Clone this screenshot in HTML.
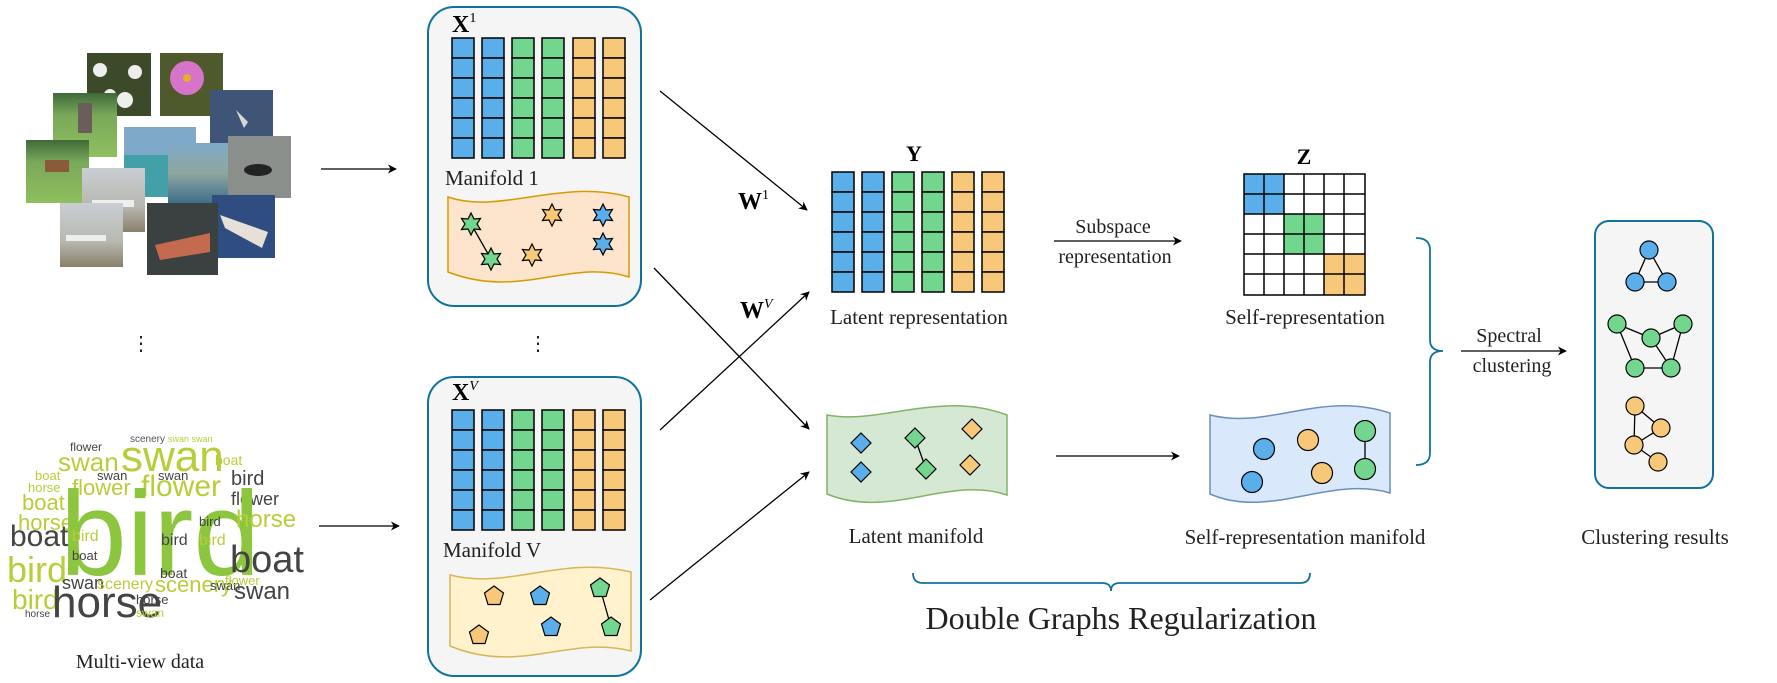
<!DOCTYPE html>
<html><head><meta charset="utf-8"><style>
html,body{margin:0;padding:0;background:#fff;}
svg{display:block;}
text{font-family:"Liberation Serif",serif;}
.wc text{font-family:"Liberation Sans Narrow","Liberation Sans",sans-serif;}
</style></head><body>
<svg width="1777" height="683" viewBox="0 0 1777 683" xmlns="http://www.w3.org/2000/svg">
<defs>
<marker id="ah" viewBox="0 0 10 10" refX="9" refY="5" markerWidth="9" markerHeight="9" orient="auto-start-reverse" markerUnits="userSpaceOnUse"><path d="M0,0 L10,5 L0,10 L3,5 z" fill="#000"/></marker>
<linearGradient id="gsea" x1="0" y1="0" x2="0" y2="1"><stop offset="0" stop-color="#7fa9c9"/><stop offset="0.5" stop-color="#8fa6a0"/><stop offset="1" stop-color="#3e6f8a"/></linearGradient>
<linearGradient id="ggrass" x1="0" y1="0" x2="0" y2="1"><stop offset="0" stop-color="#3f6a3a"/><stop offset="0.35" stop-color="#7aa85a"/><stop offset="1" stop-color="#8fbf5e"/></linearGradient>
<linearGradient id="gplane" x1="0" y1="0" x2="0" y2="1"><stop offset="0" stop-color="#c9ced3"/><stop offset="0.6" stop-color="#b7b8b0"/><stop offset="1" stop-color="#8a7f6a"/></linearGradient>
</defs>

<!-- photos -->
<rect x="87" y="53" width="64" height="63" fill="#3d4a2a"/>
<circle cx="100" cy="70" r="7" fill="#eee"/><circle cx="135" cy="72" r="7" fill="#eee"/><circle cx="125" cy="100" r="8" fill="#eee"/><circle cx="110" cy="95" r="6" fill="#eee"/>
<rect x="160" y="53" width="63" height="63" fill="#4e5a2c"/>
<circle cx="187" cy="78" r="17" fill="#d773c9"/><circle cx="187" cy="78" r="4" fill="#e2b02a"/>
<rect x="53" y="93" width="64" height="64" fill="url(#ggrass)"/>
<rect x="78" y="103" width="14" height="30" fill="#6b5e5a"/>
<rect x="210" y="90" width="63" height="63" fill="#3f5577"/>
<path d="M236,110 L248,122 L244,128 Z" fill="#d8d8d8"/>
<rect x="124" y="127" width="72" height="70" fill="#7fa9c9"/>
<rect x="124" y="155" width="72" height="42" fill="#43a0a8"/>
<rect x="26" y="140" width="63" height="63" fill="url(#ggrass)"/>
<rect x="45" y="160" width="24" height="12" fill="#8b5a3a"/>
<rect x="168" y="143" width="60" height="60" fill="url(#gsea)"/>
<rect x="228" y="136" width="63" height="62" fill="#8a8f8c"/>
<ellipse cx="258" cy="170" rx="14" ry="6" fill="#222"/>
<rect x="82" y="168" width="63" height="64" fill="url(#gplane)"/>
<rect x="92" y="200" width="42" height="7" fill="#eee"/>
<rect x="60" y="203" width="63" height="64" fill="url(#gplane)"/>
<rect x="66" y="235" width="40" height="6" fill="#eee"/>
<rect x="212" y="195" width="63" height="63" fill="#2f4d80"/>
<path d="M220,215 L268,232 L262,248 L225,228 Z" fill="#e6e0d8"/>
<rect x="147" y="203" width="71" height="72" fill="#3b4040"/>
<path d="M155,245 L210,233 L210,252 L160,260 Z" fill="#c46a4e"/>

<!-- word cloud -->
<g class="wc">
<text x="130" y="442" font-size="10" fill="#555">scenery</text><text x="168" y="442" font-size="9" fill="#b5cf3a">swan swan</text>
<text x="70" y="451" font-size="12" fill="#444">flower</text>
<text x="121" y="471" font-size="44" fill="#b5cf3a">swan</text>
<text x="58" y="471" font-size="26" fill="#b5cf3a">swan</text>
<text x="215" y="465" font-size="14" fill="#b5cf3a">boat</text>
<text x="35" y="480" font-size="13" fill="#b5cf3a">boat</text><text x="97" y="480" font-size="13" fill="#444">swan</text>
<text x="28" y="492" font-size="13" fill="#b5cf3a">horse</text><text x="72" y="495" font-size="22" fill="#b5cf3a">flower</text>
<text x="141" y="496" font-size="30" fill="#b5cf3a">flower</text><text x="158" y="480" font-size="13" fill="#444">swan</text>
<text x="231" y="485" font-size="20" fill="#444">bird</text>
<text x="231" y="505" font-size="18" fill="#444">flower</text>
<text x="22" y="510" font-size="22" fill="#b5cf3a">boat</text>
<text x="18" y="530" font-size="22" fill="#b5cf3a">horse</text>
<text x="60" y="575" font-size="120" fill="#8cc63f">bird</text>
<text x="236" y="527" font-size="24" fill="#b5cf3a">horse</text>
<text x="10" y="546" font-size="30" fill="#444">boat</text>
<text x="230" y="572" font-size="38" fill="#444">boat</text>
<text x="7" y="582" font-size="36" fill="#b5cf3a">bird</text>
<text x="72" y="541" font-size="16" fill="#b5cf3a">bird</text><text x="72" y="560" font-size="13" fill="#444">boat</text>
<text x="161" y="545" font-size="16" fill="#444">bird</text><text x="199" y="545" font-size="16" fill="#b5cf3a">bird</text>
<text x="199" y="526" font-size="13" fill="#444">bird</text>
<text x="234" y="599" font-size="24" fill="#444">swan</text>
<text x="160" y="578" font-size="14" fill="#444">boat</text>
<text x="62" y="589" font-size="18" fill="#444">swan</text><text x="97" y="589" font-size="16" fill="#b5cf3a">scenery</text>
<text x="155" y="592" font-size="22" fill="#b5cf3a">scenery</text>
<text x="12" y="609" font-size="28" fill="#b5cf3a">bird</text>
<text x="52" y="617" font-size="44" fill="#444">horse</text>
<text x="136" y="604" font-size="13" fill="#444">horse</text><text x="136" y="617" font-size="12" fill="#b5cf3a">swan</text>
<text x="25" y="617" font-size="10" fill="#444">horse</text>
<text x="210" y="590" font-size="13" fill="#444">swan</text><text x="225" y="585" font-size="13" fill="#b5cf3a">flower</text>
</g>

<text x="140" y="668" font-size="20" text-anchor="middle" fill="#222">Multi-view data</text>
<text x="141" y="350" font-size="20" text-anchor="middle" fill="#222">⋮</text>
<text x="538" y="350" font-size="20" text-anchor="middle" fill="#222">⋮</text>

<!-- arrows from data -->
<line x1="321" y1="169" x2="396" y2="169" stroke="#000" stroke-width="1.3" marker-end="url(#ah)"/>
<line x1="319" y1="526" x2="399" y2="526" stroke="#000" stroke-width="1.3" marker-end="url(#ah)"/>

<!-- view boxes -->
<rect x="428" y="7" width="213" height="299" rx="26" fill="#f5f5f5" stroke="#10739e" stroke-width="2"/>
<rect x="428" y="377" width="213" height="299" rx="26" fill="#f5f5f5" stroke="#10739e" stroke-width="2"/>

<text x="452" y="32" font-size="24" font-weight="bold">X<tspan font-size="14" font-weight="normal" dy="-10">1</tspan></text>
<text x="452" y="400" font-size="24" font-weight="bold">X<tspan font-size="14" font-weight="normal" font-style="italic" dy="-10">V</tspan></text>
<text x="445" y="185" font-size="21" fill="#222">Manifold 1</text>
<text x="443" y="557" font-size="21" fill="#222">Manifold V</text>

<!-- manifolds -->
<path d="M448,197 C500,215 560,178 629,197 L629,277 C570,258 520,300 448,272 Z" fill="#fde4cc" stroke="#d79b00" stroke-width="1.5"/>
<path d="M450,575 C510,590 560,555 631,572 L631,651 C570,635 520,675 450,646 Z" fill="#fff2cc" stroke="#d6b656" stroke-width="1.5"/>
<path d="M827,415 C880,425 940,390 1007,415 L1007,495 C950,475 890,520 827,494 Z" fill="#d5e8d4" stroke="#82b366" stroke-width="1.5"/>
<path d="M1210,415 C1270,430 1320,390 1390,413 L1390,493 C1330,475 1270,520 1210,494 Z" fill="#dae8fc" stroke="#6c8ebf" stroke-width="1.5"/>

<!-- stars -->
<line x1="471" y1="224" x2="491" y2="259" stroke="#000" stroke-width="1.3"/>
<g stroke="#000" stroke-width="1.2">
<polygon transform="translate(471,224)" points="0,-11 3,-5 9.5,-5.5 6,0 9.5,5.5 3,5 0,11 -3,5 -9.5,5.5 -6,0 -9.5,-5.5 -3,-5" fill="#72d68e"/>
<polygon transform="translate(491,259)" points="0,-11 3,-5 9.5,-5.5 6,0 9.5,5.5 3,5 0,11 -3,5 -9.5,5.5 -6,0 -9.5,-5.5 -3,-5" fill="#72d68e"/>
<polygon transform="translate(552,215)" points="0,-11 3,-5 9.5,-5.5 6,0 9.5,5.5 3,5 0,11 -3,5 -9.5,5.5 -6,0 -9.5,-5.5 -3,-5" fill="#f7c87a"/>
<polygon transform="translate(532,255)" points="0,-11 3,-5 9.5,-5.5 6,0 9.5,5.5 3,5 0,11 -3,5 -9.5,5.5 -6,0 -9.5,-5.5 -3,-5" fill="#f7c87a"/>
<polygon transform="translate(603,215)" points="0,-11 3,-5 9.5,-5.5 6,0 9.5,5.5 3,5 0,11 -3,5 -9.5,5.5 -6,0 -9.5,-5.5 -3,-5" fill="#5aaeea"/>
<polygon transform="translate(603,244)" points="0,-11 3,-5 9.5,-5.5 6,0 9.5,5.5 3,5 0,11 -3,5 -9.5,5.5 -6,0 -9.5,-5.5 -3,-5" fill="#5aaeea"/>
</g>
<!-- pentagons -->
<line x1="600" y1="588" x2="611" y2="627" stroke="#000" stroke-width="1.3"/>
<g stroke="#000" stroke-width="1.2">
<polygon transform="translate(494,596)" points="0,-10 9.5,-3 6,8.5 -6,8.5 -9.5,-3" fill="#f7c87a"/>
<polygon transform="translate(540,596)" points="0,-10 9.5,-3 6,8.5 -6,8.5 -9.5,-3" fill="#5aaeea"/>
<polygon transform="translate(600,588)" points="0,-10 9.5,-3 6,8.5 -6,8.5 -9.5,-3" fill="#72d68e"/>
<polygon transform="translate(479,635)" points="0,-10 9.5,-3 6,8.5 -6,8.5 -9.5,-3" fill="#f7c87a"/>
<polygon transform="translate(551,627)" points="0,-10 9.5,-3 6,8.5 -6,8.5 -9.5,-3" fill="#5aaeea"/>
<polygon transform="translate(611,627)" points="0,-10 9.5,-3 6,8.5 -6,8.5 -9.5,-3" fill="#72d68e"/>
</g>
<!-- diamonds -->
<line x1="915" y1="438" x2="926" y2="469" stroke="#000" stroke-width="1.3"/>
<g stroke="#000" stroke-width="1.2">
<polygon transform="translate(861,443)" points="0,-10 10,0 0,10 -10,0" fill="#5aaeea"/>
<polygon transform="translate(861,472)" points="0,-10 10,0 0,10 -10,0" fill="#5aaeea"/>
<polygon transform="translate(915,438)" points="0,-10 10,0 0,10 -10,0" fill="#72d68e"/>
<polygon transform="translate(926,469)" points="0,-10 10,0 0,10 -10,0" fill="#72d68e"/>
<polygon transform="translate(972,429)" points="0,-10 10,0 0,10 -10,0" fill="#f7c87a"/>
<polygon transform="translate(970,465)" points="0,-10 10,0 0,10 -10,0" fill="#f7c87a"/>
</g>
<!-- circles -->
<line x1="1365" y1="431" x2="1365" y2="469" stroke="#000" stroke-width="1.3"/>
<g stroke="#000" stroke-width="1.2">
<circle cx="1264" cy="449" r="10.5" fill="#5aaeea"/>
<circle cx="1252" cy="482" r="10.5" fill="#5aaeea"/>
<circle cx="1308" cy="440" r="10.5" fill="#f7c87a"/>
<circle cx="1322" cy="473" r="10.5" fill="#f7c87a"/>
<circle cx="1365" cy="431" r="10.5" fill="#72d68e"/>
<circle cx="1365" cy="469" r="10.5" fill="#72d68e"/>
</g>

<!-- columns -->
<g stroke="#000" stroke-width="1.5">
<g fill="#5aaeea">
<rect x="452" y="38" width="22" height="20"/><rect x="452" y="58" width="22" height="20"/><rect x="452" y="78" width="22" height="20"/><rect x="452" y="98" width="22" height="20"/><rect x="452" y="118" width="22" height="20"/><rect x="452" y="138" width="22" height="20"/>
<rect x="482" y="38" width="22" height="20"/><rect x="482" y="58" width="22" height="20"/><rect x="482" y="78" width="22" height="20"/><rect x="482" y="98" width="22" height="20"/><rect x="482" y="118" width="22" height="20"/><rect x="482" y="138" width="22" height="20"/>
<rect x="452" y="410" width="22" height="20"/><rect x="452" y="430" width="22" height="20"/><rect x="452" y="450" width="22" height="20"/><rect x="452" y="470" width="22" height="20"/><rect x="452" y="490" width="22" height="20"/><rect x="452" y="510" width="22" height="20"/>
<rect x="482" y="410" width="22" height="20"/><rect x="482" y="430" width="22" height="20"/><rect x="482" y="450" width="22" height="20"/><rect x="482" y="470" width="22" height="20"/><rect x="482" y="490" width="22" height="20"/><rect x="482" y="510" width="22" height="20"/>
<rect x="832" y="172" width="22" height="20"/><rect x="832" y="192" width="22" height="20"/><rect x="832" y="212" width="22" height="20"/><rect x="832" y="232" width="22" height="20"/><rect x="832" y="252" width="22" height="20"/><rect x="832" y="272" width="22" height="20"/>
<rect x="862" y="172" width="22" height="20"/><rect x="862" y="192" width="22" height="20"/><rect x="862" y="212" width="22" height="20"/><rect x="862" y="232" width="22" height="20"/><rect x="862" y="252" width="22" height="20"/><rect x="862" y="272" width="22" height="20"/>
</g>
<g fill="#72d68e">
<rect x="512" y="38" width="22" height="20"/><rect x="512" y="58" width="22" height="20"/><rect x="512" y="78" width="22" height="20"/><rect x="512" y="98" width="22" height="20"/><rect x="512" y="118" width="22" height="20"/><rect x="512" y="138" width="22" height="20"/>
<rect x="542" y="38" width="22" height="20"/><rect x="542" y="58" width="22" height="20"/><rect x="542" y="78" width="22" height="20"/><rect x="542" y="98" width="22" height="20"/><rect x="542" y="118" width="22" height="20"/><rect x="542" y="138" width="22" height="20"/>
<rect x="512" y="410" width="22" height="20"/><rect x="512" y="430" width="22" height="20"/><rect x="512" y="450" width="22" height="20"/><rect x="512" y="470" width="22" height="20"/><rect x="512" y="490" width="22" height="20"/><rect x="512" y="510" width="22" height="20"/>
<rect x="542" y="410" width="22" height="20"/><rect x="542" y="430" width="22" height="20"/><rect x="542" y="450" width="22" height="20"/><rect x="542" y="470" width="22" height="20"/><rect x="542" y="490" width="22" height="20"/><rect x="542" y="510" width="22" height="20"/>
<rect x="892" y="172" width="22" height="20"/><rect x="892" y="192" width="22" height="20"/><rect x="892" y="212" width="22" height="20"/><rect x="892" y="232" width="22" height="20"/><rect x="892" y="252" width="22" height="20"/><rect x="892" y="272" width="22" height="20"/>
<rect x="922" y="172" width="22" height="20"/><rect x="922" y="192" width="22" height="20"/><rect x="922" y="212" width="22" height="20"/><rect x="922" y="232" width="22" height="20"/><rect x="922" y="252" width="22" height="20"/><rect x="922" y="272" width="22" height="20"/>
</g>
<g fill="#f7c87a">
<rect x="573" y="38" width="22" height="20"/><rect x="573" y="58" width="22" height="20"/><rect x="573" y="78" width="22" height="20"/><rect x="573" y="98" width="22" height="20"/><rect x="573" y="118" width="22" height="20"/><rect x="573" y="138" width="22" height="20"/>
<rect x="603" y="38" width="22" height="20"/><rect x="603" y="58" width="22" height="20"/><rect x="603" y="78" width="22" height="20"/><rect x="603" y="98" width="22" height="20"/><rect x="603" y="118" width="22" height="20"/><rect x="603" y="138" width="22" height="20"/>
<rect x="573" y="410" width="22" height="20"/><rect x="573" y="430" width="22" height="20"/><rect x="573" y="450" width="22" height="20"/><rect x="573" y="470" width="22" height="20"/><rect x="573" y="490" width="22" height="20"/><rect x="573" y="510" width="22" height="20"/>
<rect x="603" y="410" width="22" height="20"/><rect x="603" y="430" width="22" height="20"/><rect x="603" y="450" width="22" height="20"/><rect x="603" y="470" width="22" height="20"/><rect x="603" y="490" width="22" height="20"/><rect x="603" y="510" width="22" height="20"/>
<rect x="952" y="172" width="22" height="20"/><rect x="952" y="192" width="22" height="20"/><rect x="952" y="212" width="22" height="20"/><rect x="952" y="232" width="22" height="20"/><rect x="952" y="252" width="22" height="20"/><rect x="952" y="272" width="22" height="20"/>
<rect x="982" y="172" width="22" height="20"/><rect x="982" y="192" width="22" height="20"/><rect x="982" y="212" width="22" height="20"/><rect x="982" y="232" width="22" height="20"/><rect x="982" y="252" width="22" height="20"/><rect x="982" y="272" width="22" height="20"/>
</g>
</g>

<!-- cross arrows -->
<g stroke="#000" stroke-width="1.3">
<line x1="660" y1="91" x2="807" y2="210" marker-end="url(#ah)"/>
<line x1="654" y1="268" x2="809" y2="429" marker-end="url(#ah)"/>
<line x1="660" y1="430" x2="809" y2="292" marker-end="url(#ah)"/>
<line x1="650" y1="600" x2="809" y2="472" marker-end="url(#ah)"/>
</g>
<text x="738" y="209" font-size="24" font-weight="bold">W<tspan font-size="14" font-weight="normal" dy="-10">1</tspan></text>
<text x="740" y="318" font-size="24" font-weight="bold">W<tspan font-size="14" font-weight="normal" font-style="italic" dy="-10">V</tspan></text>

<text x="914" y="161" font-size="22" font-weight="bold" text-anchor="middle">Y</text>
<text x="919" y="324" font-size="21" text-anchor="middle" fill="#222">Latent representation</text>
<text x="916" y="543" font-size="21" text-anchor="middle" fill="#222">Latent manifold</text>

<!-- subspace arrow -->
<line x1="1054" y1="241" x2="1181" y2="241" stroke="#000" stroke-width="1.3" marker-end="url(#ah)"/>
<text x="1113" y="233" font-size="20" text-anchor="middle" fill="#222">Subspace</text>
<text x="1115" y="263" font-size="20" text-anchor="middle" fill="#222">representation</text>
<line x1="1056" y1="456" x2="1179" y2="456" stroke="#000" stroke-width="1.3" marker-end="url(#ah)"/>

<!-- Z matrix -->
<text x="1304" y="164" font-size="22" font-weight="bold" text-anchor="middle">Z</text>
<rect x="1244" y="174" width="40" height="40" fill="#5aaeea"/>
<rect x="1284" y="214" width="40" height="40" fill="#72d68e"/>
<rect x="1324" y="254" width="41" height="41" fill="#f7c87a"/>
<g stroke="#000" stroke-width="1.5" fill="none">
<rect x="1244" y="174" width="121" height="121"/>
<line x1="1264" y1="174" x2="1264" y2="295"/><line x1="1284" y1="174" x2="1284" y2="295"/><line x1="1304" y1="174" x2="1304" y2="295"/><line x1="1324" y1="174" x2="1324" y2="295"/><line x1="1344" y1="174" x2="1344" y2="295"/>
<line x1="1244" y1="194" x2="1365" y2="194"/><line x1="1244" y1="214" x2="1365" y2="214"/><line x1="1244" y1="234" x2="1365" y2="234"/><line x1="1244" y1="254" x2="1365" y2="254"/><line x1="1244" y1="274" x2="1365" y2="274"/>
</g>
<text x="1305" y="324" font-size="21" text-anchor="middle" fill="#222">Self-representation</text>
<text x="1305" y="544" font-size="21" text-anchor="middle" fill="#222">Self-representation manifold</text>

<!-- right brace -->
<path d="M1416,238 Q1430,238 1430,250 L1430,340 Q1430,351 1443,351 Q1430,351 1430,362 L1430,453 Q1430,465 1416,465" fill="none" stroke="#10739e" stroke-width="1.8"/>
<line x1="1461" y1="351" x2="1566" y2="351" stroke="#000" stroke-width="1.3" marker-end="url(#ah)"/>
<text x="1509" y="342" font-size="20" text-anchor="middle" fill="#222">Spectral</text>
<text x="1512" y="372" font-size="20" text-anchor="middle" fill="#222">clustering</text>

<!-- clustering box -->
<rect x="1595" y="221" width="118" height="267" rx="14" fill="#f5f5f5" stroke="#10739e" stroke-width="2"/>
<g stroke="#000" stroke-width="1.3">
<line x1="1649" y1="250" x2="1635" y2="282"/><line x1="1649" y1="250" x2="1667" y2="282"/><line x1="1635" y1="282" x2="1667" y2="282"/>
<line x1="1617" y1="324" x2="1651" y2="338"/><line x1="1651" y1="338" x2="1683" y2="324"/><line x1="1617" y1="324" x2="1635" y2="368"/><line x1="1635" y1="368" x2="1671" y2="368"/><line x1="1651" y1="338" x2="1671" y2="368"/><line x1="1683" y1="324" x2="1671" y2="368"/>
<line x1="1635" y1="406" x2="1661" y2="428"/><line x1="1635" y1="406" x2="1634" y2="445"/><line x1="1661" y1="428" x2="1634" y2="445"/><line x1="1634" y1="445" x2="1658" y2="462"/>
</g>
<g stroke="#000" stroke-width="1.2">
<circle cx="1649" cy="250" r="9" fill="#5aaeea"/><circle cx="1635" cy="282" r="9" fill="#5aaeea"/><circle cx="1667" cy="282" r="9" fill="#5aaeea"/>
<circle cx="1617" cy="324" r="9" fill="#72d68e"/><circle cx="1651" cy="338" r="9" fill="#72d68e"/><circle cx="1683" cy="324" r="9" fill="#72d68e"/><circle cx="1635" cy="368" r="9" fill="#72d68e"/><circle cx="1671" cy="368" r="9" fill="#72d68e"/>
<circle cx="1635" cy="406" r="9" fill="#f7c87a"/><circle cx="1661" cy="428" r="9" fill="#f7c87a"/><circle cx="1634" cy="445" r="9" fill="#f7c87a"/><circle cx="1658" cy="462" r="9" fill="#f7c87a"/>
</g>
<text x="1655" y="544" font-size="21" text-anchor="middle" fill="#222">Clustering results</text>

<!-- bottom brace -->
<path d="M913,573 Q913,583 923,583 L1102,583 Q1111,583 1111,591 Q1111,583 1120,583 L1300,583 Q1310,583 1310,573" fill="none" stroke="#10739e" stroke-width="1.8"/>
<text x="1121" y="629" font-size="32" text-anchor="middle" fill="#222">Double Graphs Regularization</text>
</svg>
</body></html>
